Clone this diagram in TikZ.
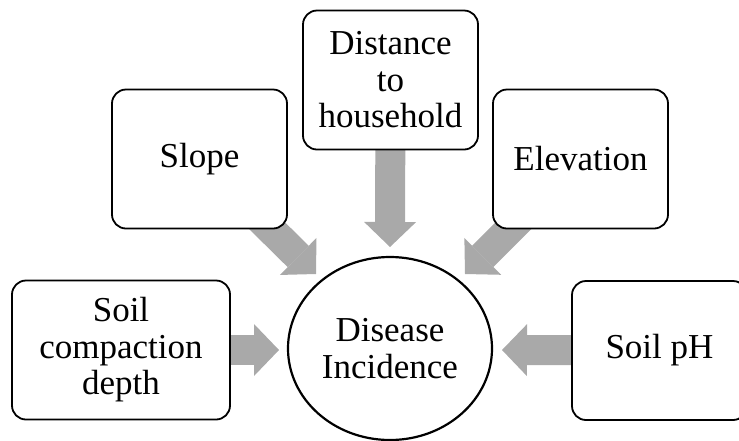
\documentclass[tikz,border=0pt]{standalone}
\usepackage{fontspec}
\setmainfont{Liberation Serif}
\usetikzlibrary{arrows.meta, shapes.geometric, backgrounds}
\definecolor{arrowgray}{HTML}{A9A9A9}
\begin{document}
\begin{tikzpicture}[x=1pt, y=-1pt,
  every node/.style={font=\fontsize{35}{36.5}\selectfont, align=center},
  factorbox/.style={draw, line width=1.8pt, rounded corners=14pt, fill=white,
    minimum width=175pt, minimum height=139pt, inner sep=0pt},
  outcome/.style={draw, ellipse, line width=2.2pt, fill=white,
    minimum width=204pt, minimum height=183pt, inner sep=0pt},
  bigarrow/.style={draw=arrowgray, line width=30pt,
    -{Triangle[length=25pt, width=52pt, line width=0pt, color=arrowgray]}}]

\useasboundingbox (0,0) rectangle (739,440);
\clip (0,0) rectangle (739,440);

% ---- factor boxes ----
\node[factorbox] (slope) at (199.5,159) {Slope};
\node[factorbox] (dist) at (390.5,80) {Distance\\to\\household};
\node[factorbox] (elev) at (580.5,159) {Elevation};
\node[factorbox, minimum width=218pt] (soilc) at (121,350) {Soil\\compaction\\depth};
\node[factorbox] (ph) at (659.5,350.5) {Soil pH};

% ---- outcome ----
\node[outcome] (dis) at (390,348.5) {Disease\\Incidence};

% ---- arrow tips ----
\coordinate (tipS) at (316,274);
\coordinate (tipD) at (390,247);
\coordinate (tipE) at (465,274);
\coordinate (tipC) at (279,350);
\coordinate (tipP) at (502,350);

\begin{scope}[on background layer]
\draw[bigarrow] (slope.center) -- (tipS);
\draw[bigarrow] (dist.center) -- (tipD);
\draw[bigarrow] (elev.center) -- (tipE);
\draw[bigarrow] (soilc.center) -- (tipC);
\draw[bigarrow] (ph.center) -- (tipP);
\end{scope}

\end{tikzpicture}
\end{document}
